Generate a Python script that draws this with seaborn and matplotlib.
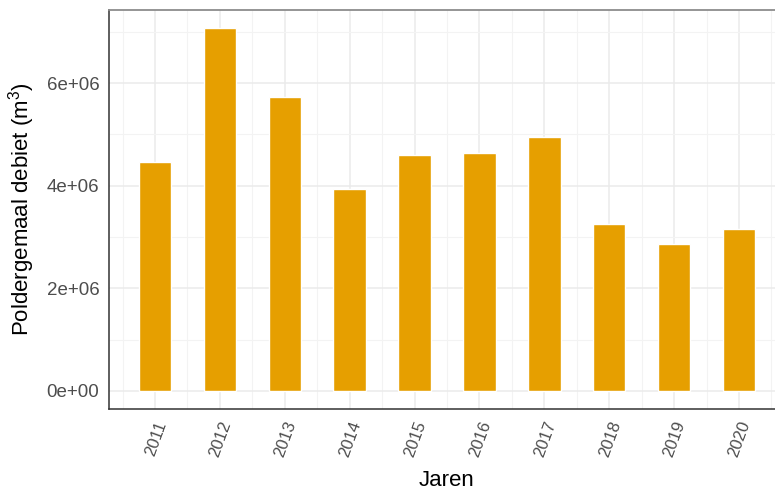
import matplotlib
matplotlib.use("Agg")
import matplotlib.pyplot as plt
from matplotlib.ticker import FixedLocator
import seaborn as sns
import pandas as pd

# Yearly pumped volume of the polder pumping station
jaren = ["2011", "2012", "2013", "2014", "2015", "2016", "2017", "2018", "2019", "2020"]
debiet = [4.47e6, 7.07e6, 5.72e6, 3.94e6, 4.59e6, 4.64e6, 4.95e6, 3.26e6, 2.87e6, 3.15e6]
y_ticks = [0, 2e6, 4e6, 6e6]
y_ticklabels = ["0e+00", "2e+06", "4e+06", "6e+06"]

df = pd.DataFrame({"jaar": jaren, "debiet": debiet})

sns.set_theme(style="white")
plt.rcParams["font.family"] = ["Liberation Sans", "DejaVu Sans"]
plt.rcParams["mathtext.fontset"] = "custom"
plt.rcParams["mathtext.rm"] = "Liberation Sans"
plt.rcParams["mathtext.default"] = "regular"

fig = plt.figure(figsize=(7.75, 4.92), dpi=100)
W, H = 775, 492
left, right, top, bottom = 109, 785, 10, 409
ax = fig.add_axes([left / W, 1 - bottom / H, (right - left) / W, (bottom - top) / H])

sns.barplot(data=df, x="jaar", y="debiet", color="#E69F00", saturation=1,
            width=0.5, ax=ax, zorder=3)

n = len(jaren)
ax.set_xlim(-0.71, n - 1 + 0.71)
ymax = max(debiet) * 1.05
ax.set_ylim(-0.05 * max(debiet), ymax)

# Grid: major at ticks, minor halfway between
ax.set_yticks(y_ticks)
ax.set_yticklabels(y_ticklabels)
ax.yaxis.set_minor_locator(FixedLocator([1e6, 3e6, 5e6, 7e6]))
ax.xaxis.set_minor_locator(FixedLocator([i + 0.5 for i in range(-1, n)]))
ax.grid(which="major", color="#EBEBEB", linewidth=1.1, zorder=0)
ax.grid(which="minor", color="#F3F3F3", linewidth=0.8, zorder=0)
ax.set_axisbelow(True)

ax.tick_params(axis="both", which="major", length=4, width=1.1, color="#333333",
               labelcolor="#4D4D4D", labelsize=13.5, pad=3)
ax.tick_params(axis="x", which="major", labelsize=12, pad=3)
ax.tick_params(axis="both", which="minor", length=0)
for lab in ax.get_xticklabels():
    lab.set_rotation(70)
    lab.set_ha("right")
    lab.set_va("top")
    lab.set_rotation_mode("anchor")

for side in ["left", "bottom"]:
    ax.spines[side].set_color("#333333")
    ax.spines[side].set_linewidth(1.1)
ax.spines["top"].set_color("#8C8C8C")
ax.spines["top"].set_linewidth(1.3)
ax.spines["right"].set_visible(False)

ax.set_xlabel("Jaren", fontsize=16, color="black")
ax.xaxis.label.set_va("baseline")
ax.xaxis.set_label_coords(446.5 / W, 1 - 486 / H, transform=fig.transFigure)
ax.set_ylabel(r"Poldergemaal debiet (m$^{3}$)", fontsize=16, color="black", labelpad=7)

fig.savefig("out.png", dpi=100)
